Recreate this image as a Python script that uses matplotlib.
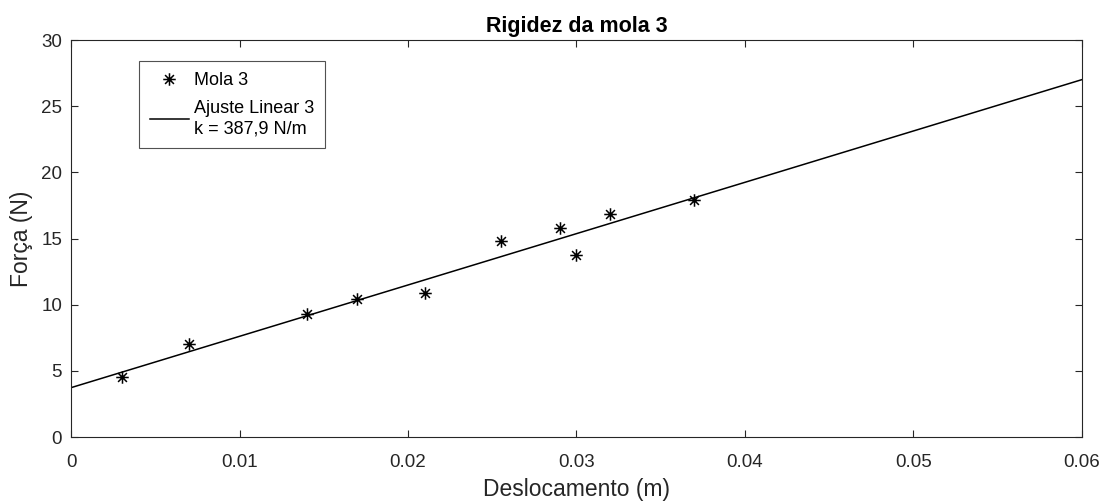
import matplotlib
matplotlib.use("Agg")
import matplotlib.pyplot as plt
from matplotlib.path import Path
import numpy as np

plt.rcParams.update({
    "font.family": ["Liberation Sans", "DejaVu Sans"],
    "axes.edgecolor": "#262626",
    "axes.linewidth": 0.8,
    "xtick.color": "#262626",
    "ytick.color": "#262626",
    "xtick.direction": "in",
    "ytick.direction": "in",
    "xtick.top": True,
    "ytick.right": True,
})

# measured data
deslocamento = [0.003, 0.007, 0.014, 0.017, 0.021, 0.0255, 0.029, 0.030, 0.032, 0.037]
forca = [4.55, 7.0, 9.3, 10.4, 10.85, 14.8, 15.8, 13.75, 16.85, 17.9]

# linear fit
k = 387.9
f0 = 3.73
x_fit = [0.0, 0.06]
y_fit = [f0 + k * x for x in x_fit]

x_ticks = [0, 0.01, 0.02, 0.03, 0.04, 0.05, 0.06]
x_ticklabels = ["0", "0.01", "0.02", "0.03", "0.04", "0.05", "0.06"]
y_ticks = [0, 5, 10, 15, 20, 25, 30]

# matlab-style asterisk (+ and x combined)
d = 0.7071
asterisk = Path(
    [(-1, 0), (1, 0), (0, -1), (0, 1), (-d, -d), (d, d), (-d, d), (d, -d)],
    [Path.MOVETO, Path.LINETO] * 4,
)

fig = plt.figure(figsize=(11.05, 5.04), dpi=100)
ax = fig.add_axes([0.0643, 0.1329, 0.9147, 0.7877])

pts, = ax.plot(deslocamento, forca, linestyle="none", marker=asterisk, color="black",
               markersize=9, markeredgewidth=1.1)
fit, = ax.plot(x_fit, y_fit, color="black", linewidth=1.1)

ax.set_xlim(0, 0.06)
ax.set_ylim(0, 30)
ax.set_xticks(x_ticks)
ax.set_xticklabels(x_ticklabels)
ax.set_yticks(y_ticks)
ax.tick_params(labelsize=13.5, length=5, width=0.8)
ax.tick_params(axis="x", pad=12)
ax.tick_params(axis="y", pad=6.5)

ax.set_xlabel("Deslocamento (m)", fontsize=16.5, color="#262626", labelpad=5)
ax.set_ylabel("Força (N)", fontsize=16.5, color="#262626", labelpad=6)
ax.set_title("Rigidez da mola 3", fontsize=15.5, fontweight="bold", color="black", pad=6)

leg = ax.legend([pts, fit], ["Mola 3", "Ajuste Linear 3\nk = 387,9 N/m"],
                loc="upper left", bbox_to_anchor=(0.0673, 0.947), borderaxespad=0,
                fontsize=13, frameon=True, fancybox=False, edgecolor="#262626",
                handlelength=2.15, handletextpad=0.3, borderpad=0.6, labelspacing=0.6)
leg.get_frame().set_linewidth(0.8)
for t in leg.get_texts():
    t.set_linespacing(1.3)

fig.savefig("out.png", dpi=100)
